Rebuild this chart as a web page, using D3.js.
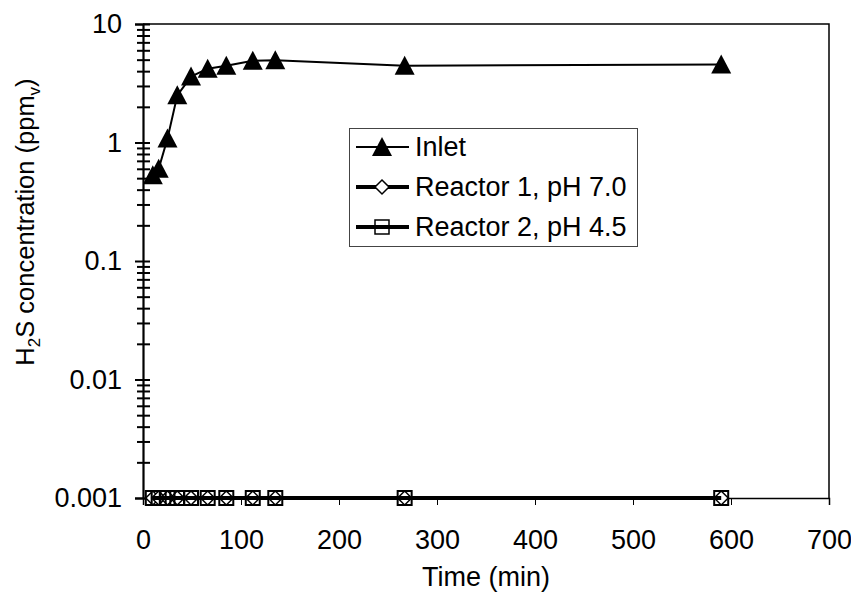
<!DOCTYPE html>
<html>
<head>
<meta charset="utf-8">
<script src="https://cdn.jsdelivr.net/npm/d3@7"></script>
<style>
  body { margin: 0; background: #fff; overflow: hidden; }
  text { font-family: Arial, "Liberation Sans", sans-serif; fill: #000; }
</style>
</head>
<body>
<div id="chart"></div>
<script>
// data
const times = [10, 16, 25, 35, 49, 66, 85, 112, 135, 267, 590];
const inlet = [0.53, 0.6, 1.08, 2.5, 3.6, 4.2, 4.45, 4.9, 4.95, 4.45, 4.55];
const reactor1 = [0.001, 0.001, 0.001, 0.001, 0.001, 0.001, 0.001, 0.001, 0.001, 0.001, 0.001];
const reactor2 = [0.001, 0.001, 0.001, 0.001, 0.001, 0.001, 0.001, 0.001, 0.001, 0.001, 0.001];
const xTicks = [0, 100, 200, 300, 400, 500, 600, 700];
const yMajor = [0.001, 0.01, 0.1, 1, 10];
const yLabels = ["0.001", "0.01", "0.1", "1", "10"];
const seriesNames = ["Inlet", "Reactor 1, pH 7.0", "Reactor 2, pH 4.5"];

let width = 851,
    height = 596,
    margin = ({ top: 24, right: 22, bottom: 98, left: 143 });

const fs = 27; // label font size

const svg = d3.select("#chart")
  .append("svg")
  .attr("width", width)
  .attr("height", height);

let x = d3.scaleLinear()
  .domain([0, 700])
  .range([margin.left, width - margin.right]);

let y = d3.scaleLog()
  .domain([0.001, 10])
  .range([height - margin.bottom, margin.top]);

// minor log ticks 2..9 in each decade
let yMinor = [];
yMajor.slice(0, -1).forEach(d => {
  for (let k = 2; k <= 9; k++) yMinor.push(d * k);
});

// frame (top + right)
svg.append("path")
  .attr("d", `M${x(0)},${y(10)}H${x(700)}V${y(0.001)}`)
  .attr("fill", "none")
  .attr("stroke", "#000")
  .attr("stroke-width", 1.5);

// x axis
const xAxis = svg.append("g")
  .attr("transform", `translate(0,${y(0.001)})`)
  .call(d3.axisBottom(x).tickValues(xTicks).tickSize(7).tickFormat(d => d));
xAxis.select(".domain").attr("stroke-width", 1.5);
xAxis.selectAll(".tick line").attr("stroke-width", 1);
xAxis.selectAll(".tick text")
  .attr("y", 51).attr("dy", null)
  .attr("font-size", fs)
  .attr("font-family", "Arial, 'Liberation Sans', sans-serif");

// y axis, ticks cross the axis line
const yAxis = svg.append("g")
  .attr("transform", `translate(${x(0)},0)`)
  .call(d3.axisLeft(y).tickValues(yMajor.concat(yMinor)).tickSize(8)
    .tickFormat(d => {
      let i = yMajor.indexOf(d);
      return i < 0 ? "" : yLabels[i];
    }));
yAxis.select(".domain").attr("stroke-width", 2.2);
yAxis.selectAll(".tick line")
  .attr("stroke-width", 2)
  .attr("x1", d => yMajor.includes(d) ? -8 : -6)
  .attr("x2", 7);
yAxis.selectAll(".tick text")
  .attr("x", -21)
  .attr("font-size", fs)
  .attr("font-family", "Arial, 'Liberation Sans', sans-serif");

// axis titles
svg.append("text")
  .attr("x", x(350))
  .attr("y", 586)
  .attr("text-anchor", "middle")
  .attr("font-size", fs)
  .text("Time (min)");

const yt = svg.append("text")
  .attr("transform", `translate(34,222) rotate(-90)`)
  .attr("text-anchor", "middle")
  .attr("font-size", 25.5);
yt.append("tspan").text("H");
yt.append("tspan").attr("font-size", 17).attr("dy", 6).text("2");
yt.append("tspan").attr("dy", -6).text("S concentration (ppm");
yt.append("tspan").attr("font-size", 17).attr("dy", 6).text("v");
yt.append("tspan").attr("dy", -6).text(")");

// marker shapes
const tri = "M0,-10L10,9L-10,9Z";
const dia = "M0,-7L7,0L0,7L-7,0Z";
const sq = "M-7,-7H7V7H-7Z";

const pts = v => times.map((t, i) => [t, v[i]]);
const line = d3.line().x(d => x(d[0])).y(d => y(d[1]));

// inlet
svg.append("path")
  .datum(pts(inlet))
  .attr("d", line)
  .attr("fill", "none")
  .attr("stroke", "#000")
  .attr("stroke-width", 2);
svg.append("g").selectAll("path")
  .data(pts(inlet))
  .join("path")
  .attr("transform", d => `translate(${x(d[0])},${y(d[1])})`)
  .attr("d", tri)
  .attr("fill", "#000");

// reactor 1
svg.append("path")
  .datum(pts(reactor1))
  .attr("d", line)
  .attr("fill", "none")
  .attr("stroke", "#000")
  .attr("stroke-width", 4);
svg.append("g").selectAll("path")
  .data(pts(reactor1))
  .join("path")
  .attr("transform", d => `translate(${x(d[0])},${y(d[1])})`)
  .attr("d", dia)
  .attr("fill", "#fff")
  .attr("stroke", "#000")
  .attr("stroke-width", 1.5);

// reactor 2
svg.append("path")
  .datum(pts(reactor2))
  .attr("d", line)
  .attr("fill", "none")
  .attr("stroke", "#000")
  .attr("stroke-width", 4);
svg.append("g").selectAll("path")
  .data(pts(reactor2))
  .join("path")
  .attr("transform", d => `translate(${x(d[0])},${y(d[1])})`)
  .attr("d", sq)
  .attr("fill", "none")
  .attr("stroke", "#000")
  .attr("stroke-width", 2);

// legend
const legend = svg.append("g").attr("transform", "translate(349,128)");
legend.append("rect")
  .attr("x", 0.5).attr("y", 0.5)
  .attr("width", 288).attr("height", 118)
  .attr("fill", "#fff")
  .attr("stroke", "#444")
  .attr("stroke-width", 1);

const legMarks = [
  { path: tri, fill: "#000", stroke: "none", lw: 2 },
  { path: dia, fill: "#fff", stroke: "#000", lw: 4 },
  { path: sq, fill: "none", stroke: "#000", lw: 4 }
];
seriesNames.forEach((name, i) => {
  const g = legend.append("g").attr("transform", `translate(0,${19 + i * 40})`);
  const m = legMarks[i];
  g.append("line")
    .attr("x1", 7).attr("x2", 60)
    .attr("stroke", "#000")
    .attr("stroke-width", m.lw);
  g.append("path")
    .attr("transform", "translate(33,0)")
    .attr("d", m.path)
    .attr("fill", m.fill)
    .attr("stroke", m.stroke)
    .attr("stroke-width", 1.5);
  g.append("text")
    .attr("x", 66)
    .attr("dy", "0.35em")
    .attr("font-size", fs)
    .text(name);
});
</script>
</body>
</html>
